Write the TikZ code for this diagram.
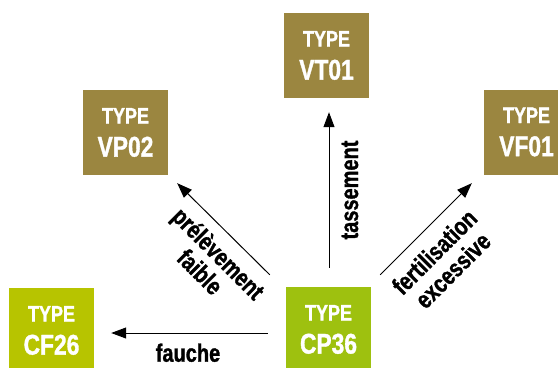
\documentclass[tikz,border=0pt]{standalone}
\usepackage{fontspec}
\newfontfamily\condfont{Liberation Sans}[FakeStretch=0.8,FakeBold=1.2]
\usetikzlibrary{arrows.meta,calc}
\definecolor{brownbox}{RGB}{155,134,64}
\definecolor{greenbox}{RGB}{158,193,15}
\definecolor{limebox}{RGB}{183,196,0}
\newcommand\typetext[1]{\vbox{\baselineskip=33bp\lineskiplimit=-100bp
  \hbox to 85bp{\hss\fontsize{22.5bp}{33bp}\selectfont TYPE\hss}
  \hbox to 85bp{\hss\fontsize{28.5bp}{33bp}\selectfont #1\hss}}}
\begin{document}
\begin{tikzpicture}[x=1bp,y=1bp,
  typebox/.style={rectangle, minimum width=85bp, minimum height=85bp, inner sep=0pt,
    text=white, font=\condfont\bfseries},
  conn/.style={-{Triangle[length=15bp,width=11bp]}, line width=1bp, black},
  lbl/.style={font=\condfont\bfseries\fontsize{25bp}{26bp}\selectfont, align=center, inner sep=0pt}]
\useasboundingbox (0,0) rectangle (558,367);
\clip (0,0) rectangle (558,367);
\fill[white] (0,0) rectangle (558,367);
% boxes
\node[typebox, fill=brownbox] (vt) at (326.5,311.5) {\typetext{VT01}};
\node[typebox, fill=brownbox] (vf) at (526.5,235) {\typetext{VF01}};
\node[typebox, fill=brownbox] (vp) at (125.5,234.5) {\typetext{VP02}};
\node[typebox, fill=greenbox] (cp) at (328.5,37.5) {\typetext{CP36}};
\node[typebox, fill=limebox] (cf) at (51.5,36.5) {\typetext{CF26}};
% connectors
\draw[conn] ($(cp.north)+(0.5,19)$) -- ($(vt.south)+(2.5,-14)$);
\draw[conn] ($(cp.north east)+(9,12)$) -- ($(vf.south west)+(-12,-8.5)$);
\draw[conn] ($(cp.north west)+(-16,12)$) -- ($(vp.south east)+(9,-8)$);
\draw[conn] ($(cp.west)+(-18,-3.5)$) -- ($(cf.east)+(17,-2.5)$);
% labels
\node[lbl, anchor=base] (fa) at (188,5.3) {fauche};
\node[lbl, rotate=90, anchor=base] (ta) at (358,177) {tassement};
\node[lbl, rotate=-45] (pf) at (209.5,104.5) {prélèvement\\faible};
\node[lbl, rotate=45] (fe) at (443.5,106) {fertilisation\\excessive};
\end{tikzpicture}
\end{document}
